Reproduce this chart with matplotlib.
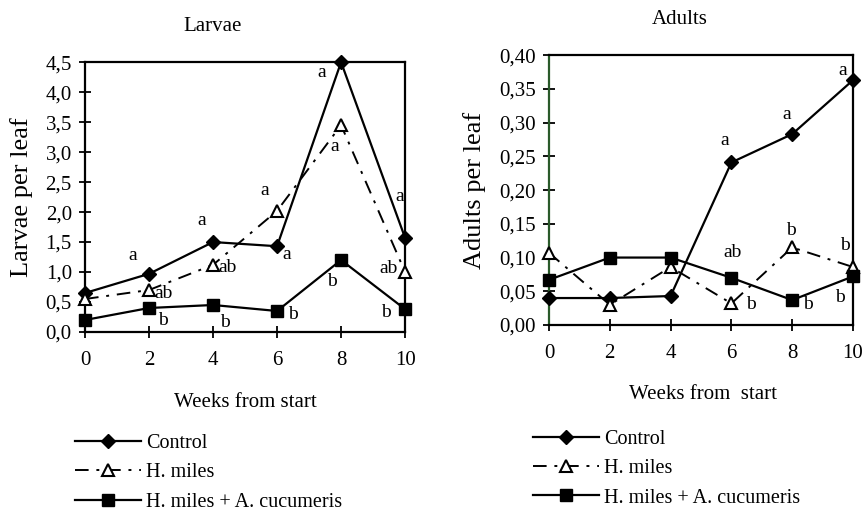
import matplotlib
matplotlib.use('Agg')
import matplotlib.pyplot as plt
from matplotlib.ticker import FuncFormatter

plt.rcParams['font.family'] = ['Liberation Serif', 'DejaVu Serif']

# Data
weeks = [0, 2, 4, 6, 8, 10]
series_names = ['Control', 'H. miles', 'H. miles + A. cucumeris']

larvae_control = [0.65, 0.97, 1.50, 1.43, 4.50, 1.57]
larvae_miles = [0.55, 0.70, 1.12, 2.02, 3.45, 1.00]
larvae_combo = [0.20, 0.40, 0.45, 0.35, 1.20, 0.38]

adults_control = [0.040, 0.040, 0.043, 0.241, 0.283, 0.363]
adults_miles = [0.107, 0.030, 0.086, 0.032, 0.115, 0.086]
adults_combo = [0.067, 0.100, 0.100, 0.070, 0.037, 0.072]

# significance letters
larvae_control_lt = ['', 'a', 'a', 'a', 'a', 'a']
larvae_miles_lt = ['', 'ab', 'ab', 'a', 'a', 'ab']
larvae_combo_lt = ['', 'b', 'b', 'b', 'b', 'b']
adults_control_lt = ['', '', '', 'a', 'a', 'a']
adults_miles_lt = ['', '', '', 'b', 'b', 'b']
adults_combo_lt = ['', '', '', 'ab', 'b', 'b']

# letter offsets in pixels (dx, dy)
larvae_offsets = [
    [(0, 0), (-16, 18), (-11, 22), (10, -8), (-19, -10), (-5, 41)],
    [(0, 0), (15, -3), (15, -3), (-12, 20), (-6, -21), (-17, 4)],
    [(0, 0), (14, -13), (12, -18), (16, -4), (-9, -21), (-19, -3)],
]
adults_offsets = [
    [(0, 0), (0, 0), (0, 0), (-7, 22), (-5, 20), (-10, 10)],
    [(0, 0), (0, 0), (0, 0), (20, -1), (-1, 17), (-8, 22)],
    [(0, 0), (0, 0), (0, 0), (1, 25), (16, -4), (-13, -21)],
]

styles = [
    dict(color='black', lw=1.6, marker='D', ms=7, mfc='black', mec='black', ls='-'),
    dict(color='black', lw=1.4, marker='^', ms=8, mfc='white', mec='black', mew=1.5,
         ls=(0, (7, 4, 1.5, 4))),
    dict(color='black', lw=1.6, marker='s', ms=8, mfc='black', mec='black', ls='-'),
]

fig = plt.figure(figsize=(8.65, 5.12), dpi=100)
ax1 = fig.add_axes([0.0983, 0.3516, 0.370, 0.527])
ax2 = fig.add_axes([0.6347, 0.3652, 0.3514, 0.527])


def draw_panel(ax, series, letters, offsets, ymax, ystep, fmt, title, ylabel, tx, ylx):
    handles = []
    for vals, lts, offs, st in zip(series, letters, offsets, styles):
        h, = ax.plot(weeks, vals, clip_on=False, zorder=3, **st)
        handles.append(h)
        for x, y, t, (dx, dy) in zip(weeks, vals, lts, offs):
            if t:
                ax.annotate(t, (x, y), xytext=(dx, dy), textcoords='offset pixels',
                            ha='center', va='center', fontsize=14)
    ax.set_xlim(0, 10)
    ax.set_ylim(0, ymax)
    ax.set_xticks(weeks)
    yt = [i * ystep for i in range(int(round(ymax / ystep)) + 1)]
    ax.set_yticks(yt)
    ax.yaxis.set_major_formatter(FuncFormatter(lambda v, p: (fmt % v).replace('.', ',')))
    ax.tick_params(axis='both', direction='inout', length=9, width=1.3, labelsize=15)
    ax.tick_params(axis='x', pad=9)
    ax.tick_params(axis='y', pad=5)
    for sp in ax.spines.values():
        sp.set_linewidth(1.6)
    ax.text(tx, 1.133, title, transform=ax.transAxes, ha='center', va='center', fontsize=15)
    ax.set_ylabel(ylabel, fontsize=19)
    ax.yaxis.set_label_coords(ylx, 0.5)
    return handles


h1 = draw_panel(ax1, [larvae_control, larvae_miles, larvae_combo],
                [larvae_control_lt, larvae_miles_lt, larvae_combo_lt], larvae_offsets,
                4.5, 0.5, '%.1f', 'Larvae', 'Larvae per leaf', 0.40, -0.1625)
h2 = draw_panel(ax2, [adults_control, adults_miles, adults_combo],
                [adults_control_lt, adults_miles_lt, adults_combo_lt], adults_offsets,
                0.40, 0.05, '%.2f', 'Adults', 'Adults per leaf', 0.431, -0.207)
ax2.spines['left'].set_color('#2a5a2a')

ax1.text(0.5, -0.263, 'Weeks from start', transform=ax1.transAxes, ha='center', va='center', fontsize=15)
ax2.text(0.505, -0.259, 'Weeks from  start', transform=ax2.transAxes, ha='center', va='center', fontsize=15)

for ax, h, x0, y0 in [(ax1, h1, 0.0867, 0.152), (ax2, h2, 0.616, 0.160)]:
    ax.legend(h, series_names, loc='upper left', bbox_to_anchor=(x0, y0),
              bbox_transform=fig.transFigure, frameon=False, fontsize=14.5,
              handlelength=3.3, handletextpad=0.25, labelspacing=0.5,
              borderpad=0, borderaxespad=0)

fig.savefig('out.png', dpi=100)
